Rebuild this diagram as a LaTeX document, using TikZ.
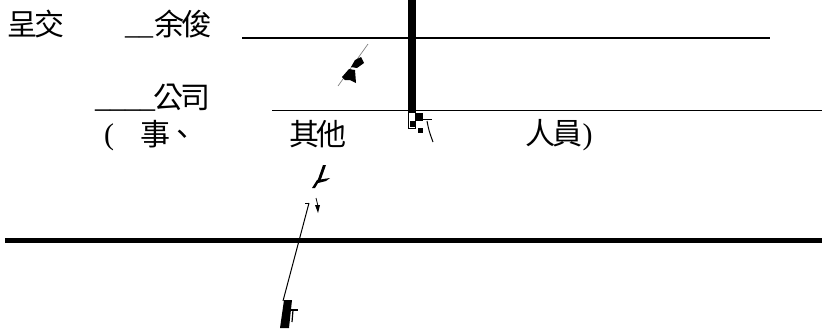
\documentclass[tikz,border=0pt]{standalone}
\usepackage{fontspec}
\setmainfont{Liberation Serif}
\newfontfamily\cjk[LetterSpace=-9]{Noto Sans CJK TC}
\begin{document}
\begin{tikzpicture}[x=1pt,y=-1pt,
  txt/.style={anchor=base west,inner sep=0pt,font=\fontsize{30}{34}\selectfont},
  rule/.style={line width=1.5pt},
  bigrule/.style={line width=5pt},
  bar/.style={line width=8pt},
  hair/.style={line width=0.7pt},
  blob/.style={fill=black}]
\useasboundingbox (0,0) rectangle (822,333);
% texts
\node[txt] (t1) at (7,35) {\cjk 呈交};
\node[txt,font=\fontsize{28}{32}\selectfont] (u1) at (125,34) {\_\_};
\node[txt] (t2) at (154,35) {\cjk 余俊};
\node[txt] (u2) at (95,107) {\_\_\_\_};
\node[txt] (t3) at (153,108) {\cjk 公司};
\node[txt] (t4) at (104,144) {(};
\node[txt] (t5) at (140,145) {\cjk 事、};
\node[txt] (t6) at (289,145) {\cjk 其他};
\node[txt] (t7) at (525,144) {\cjk 人員{\rmfamily )}};
% lines
\coordinate (l1a) at (242,38); \coordinate (l1b) at (770,38);
\draw[rule] (l1a) -- (l1b);
\coordinate (l2a) at (272,110.5); \coordinate (l2b) at (822,110.5);
\draw[rule] (l2a) -- (l2b);
\coordinate (vt) at (412,0); \coordinate (vb) at (412,112);
\draw[bar] (vt) -- (vb);
\coordinate (ha) at (5,240); \coordinate (hb) at (822,240);
\draw[bigrule] (ha) -- (hb);
% glyph near top
\coordinate (g1a) at (368,44); \coordinate (g1b) at (338,86);
\draw[hair,gray] (g1a) -- (g1b);
\fill[blob] (351,67) -- (355,60) -- (361,57) -- (364,63) -- (357,68) -- cycle;
\fill[blob] (342,77) -- (349,69) -- (355,70) -- (356,83) -- (350,80) -- (345,80) -- cycle;
% checker glyph
\draw[line width=0.5pt] (408.5,112) rectangle (415.5,128);
\fill[blob] (415,113) rectangle (423,121);
\fill[blob] (410,121) rectangle (415,127);
\fill[blob] (418,128) rectangle (423,133);
\draw[line width=1pt] (423,119) -- (432,119);
\draw[line width=1pt] (427,121) .. controls (429,131) .. (433,142);
% middle glyphs
\fill[blob] (323,165) -- (326,165) -- (320,182) -- (317,182) -- cycle;
\fill[blob] (312,188) -- (317,180) -- (330,178) -- (326,181) -- (318,183) -- (315,188) -- cycle;
\draw[line width=0.8pt] (316,198) -- (318,206);
\fill[blob] (315,205) -- (320,205) -- (318,213) -- cycle;
\coordinate (d1) at (309,203); \coordinate (d2) at (283,301);
\draw[line width=0.8pt] (305,203) -- (d1);
\draw[line width=1pt] (d1) -- (d2);
% bottom glyph
\fill[blob] (284,300) -- (292,300) -- (289,328) -- (280,328) -- cycle;
\draw[line width=1.2pt] (290,310) -- (298,310);
\draw[line width=1.2pt] (293,310) -- (292,322);
\end{tikzpicture}
\end{document}
